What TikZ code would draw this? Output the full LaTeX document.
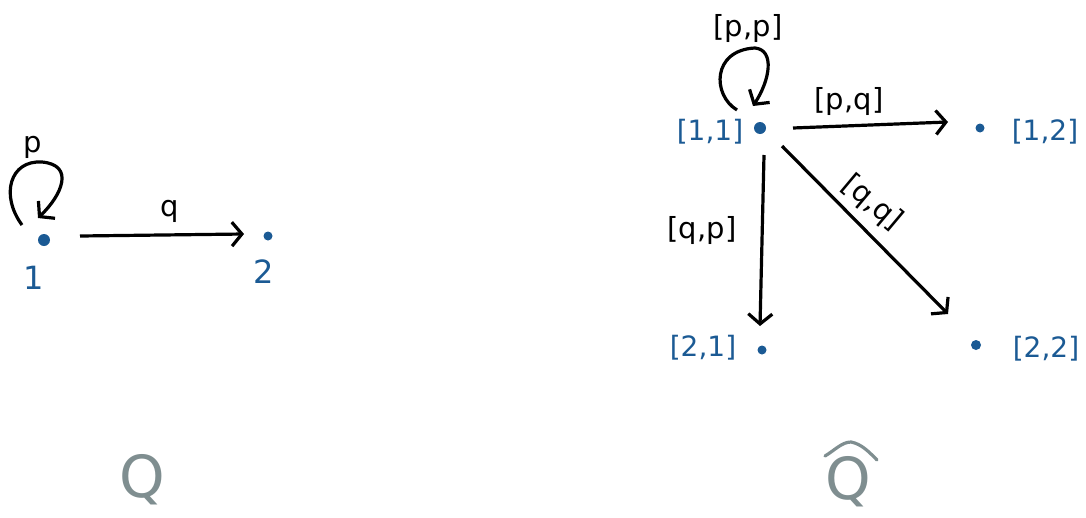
\documentclass[tikz,border=0pt]{standalone}
\usepackage{fontspec}
\setmainfont{DejaVu Sans}
\usetikzlibrary{arrows.meta}
\definecolor{nodeblue}{HTML}{1B5A94}
\definecolor{qgray}{HTML}{7F8E90}
\tikzset{
  dot/.style={circle,fill=nodeblue,inner sep=0pt,minimum size=10pt},
  nlab/.style={text=nodeblue,font=\fontsize{28}{30}\selectfont},
  elab/.style={text=black,font=\fontsize{29}{31}\selectfont,inner sep=1pt},
  edge/.style={line width=3.2pt,-{Straight Barb[length=10pt,width=24pt,line width=3.2pt]}},
  bigq/.style={text=qgray,font=\fontsize{58}{60}\selectfont},
  hat/.style={draw=qgray,line width=3.2pt,line cap=round,line join=round}
}
\begin{document}
\begin{tikzpicture}[x=1pt,y=-1pt]
\useasboundingbox (0,0) rectangle (1086,517);
% left graph
\node[dot,minimum size=12pt] (n1) at (44,240) {};
\node[dot,minimum size=9pt] (n2) at (268,236) {};
\node[nlab,font=\fontsize{32}{34}\selectfont] (l1) at (34,278) {1};
\node[nlab,font=\fontsize{32}{34}\selectfont] (l2) at (264,272) {2};
\coordinate (s1) at (22,225);
\coordinate (e1) at (38,218);
\draw[edge] (s1) .. controls (0,195) and (10,160) .. (42,162) .. controls (75,165) and (62,195) .. (e1);
\node[elab] (p) at (33,147) {p};
\coordinate (a1) at (80,236);
\coordinate (b1) at (244,234);
\draw[edge] (a1) -- (b1);
\node[elab] (q) at (170,211) {q};
\node[bigq] (Q) at (142,480) {Q};
% right graph
\node[dot,minimum size=12pt] (d11) at (760,128) {};
\node[dot,minimum size=9pt] (d12) at (980,128) {};
\node[dot,minimum size=9pt] (d21) at (762,350) {};
\node[dot,minimum size=10pt] (d22) at (976,345) {};
\node[nlab] (t11) at (710,132) {[1,1]};
\node[nlab] (t12) at (1045,132) {[1,2]};
\node[nlab] (t21) at (703,348) {[2,1]};
\node[nlab] (t22) at (1046,349) {[2,2]};
\coordinate (s2) at (737,110);
\coordinate (e2) at (753,106);
\draw[edge] (s2) .. controls (712,95) and (712,50) .. (755,48) .. controls (775,50) and (770,80) .. (e2);
\node[elab] (pp) at (748,28) {[p,p]};
\coordinate (a2) at (793,128);
\coordinate (b2) at (948,122);
\draw[edge] (a2) -- (b2);
\node[elab] (pq) at (849,101) {[p,q]};
\coordinate (a3) at (764,155);
\coordinate (b3) at (760,326);
\draw[edge] (a3) -- (b3);
\node[elab] (qp) at (702,230) {[q,p]};
\coordinate (a4) at (782,146);
\coordinate (b4) at (948,314);
\draw[edge] (a4) -- (b4);
\node[elab,rotate=-40] (qq) at (872,203) {[q,q]};
\node[bigq] (Qh) at (848,482) {Q};
\coordinate (h1) at (825,456);
\coordinate (h2) at (851,442);
\coordinate (h3) at (877,460);
\draw[hat] (h1) .. controls (835,450) and (842,442) .. (h2) .. controls (862,444) and (870,453) .. (h3);
\end{tikzpicture}
\end{document}
